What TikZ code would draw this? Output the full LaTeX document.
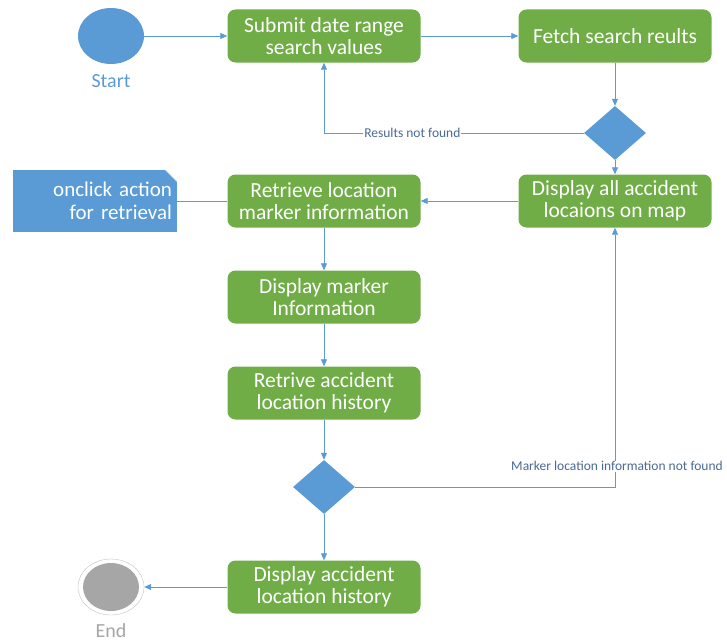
\documentclass[tikz,border=0pt]{standalone}
\usepackage{fontspec}
\setmainfont{Carlito}
\usepackage{xcolor}
\usetikzlibrary{shapes, arrows.meta, positioning}
\definecolor{actgreen}{HTML}{70AD47}
\definecolor{flowblue}{HTML}{5B9BD5}
\definecolor{labelgray}{HTML}{4A6A96}
\definecolor{endgray}{HTML}{A6A6A6}

\begin{document}
\begin{tikzpicture}[x=1pt, y=-1pt,
    act/.style={rectangle, rounded corners=8pt, fill=actgreen, text=white, minimum width=193pt,
      minimum height=53pt, align=center, inner sep=2pt, font=\fontsize{21.5}{21.5}\selectfont},
    dec/.style={diamond, fill=flowblue, minimum width=62pt, minimum height=54pt, inner sep=0pt},
    flow/.style={->, draw=flowblue, line width=0.8pt},
    lbl/.style={font=\fontsize{13.5}{14}\selectfont, text=labelgray, fill=white, inner sep=1pt},
    >={Triangle[length=7pt, width=6pt]}]
        \useasboundingbox (0,0) rectangle (727,642);

        \node[ellipse, fill=flowblue, minimum width=66pt, minimum height=56pt] (S) at (111,36) {};
        \node[text=flowblue, font=\fontsize{20}{22}\selectfont] (SL) at (111,81) {Start};

        \node[act] (A) at (324,36) {Submit date range\\search values};
        \node[act] (B) at (615,36) {Fetch search reults};
        \node[dec] (C) at (615,133) {};
        \node[act] (D) at (615,201) {Display all accident\\locaions on map};
        \node[act] (E) at (324,201) {Retrieve location\\marker information};
        \node[fill=flowblue, minimum width=164pt, minimum height=62pt, text width=154pt, align=right,
          inner sep=2pt, text=white, font=\fontsize{21}{23}\selectfont] (N) at (95,201) {onclick action\\for retrieval};
        \node[act] (F) at (324,297) {Display marker\\Information};
        \node[act] (G) at (324,393) {Retrive accident\\location history};
        \node[dec] (H) at (324,487) {};
        \node[act] (I) at (324,587) {Display accident\\location history};
        \node[ellipse, draw=endgray!70, fill=white, minimum width=66pt, minimum height=56pt] (Z) at (111,587) {};
        \fill[endgray] (Z.center) ellipse (28 and 24);
        \node[text=endgray, font=\fontsize{20}{22}\selectfont] (ZL) at (111,631) {End};

        % folded corner of the note
        \fill[white] (N.north east) -- ++(-12,0) -- ++(12,12) -- cycle;
        \draw[gray!30, line width=0.5pt] (N.north east) ++(-12,0) -- ++(12,12);

        \draw[flow] (S) -- (A);
        \draw[flow] (A) -- (B);
        \draw[flow] (B) -- (C);
        \draw[flow] (C) -- (D);
        \draw[flow] (C) -| node[lbl, pos=0.33] {Results not found} (A);
        \draw[flow] (D) -- (E);
        \draw[draw=flowblue, line width=0.8pt] (E) -- (N);
        \draw[flow] (E) -- (F);
        \draw[flow] (F) -- (G);
        \draw[flow] (G) -- (H);
        \draw[flow] (H) -| node[lbl, pos=0.54, xshift=2pt] {Marker location information not found} (D);
        \draw[flow] (H) -- (I);
        \draw[flow] (I) -- (Z);
      \end{tikzpicture}
\end{document}
